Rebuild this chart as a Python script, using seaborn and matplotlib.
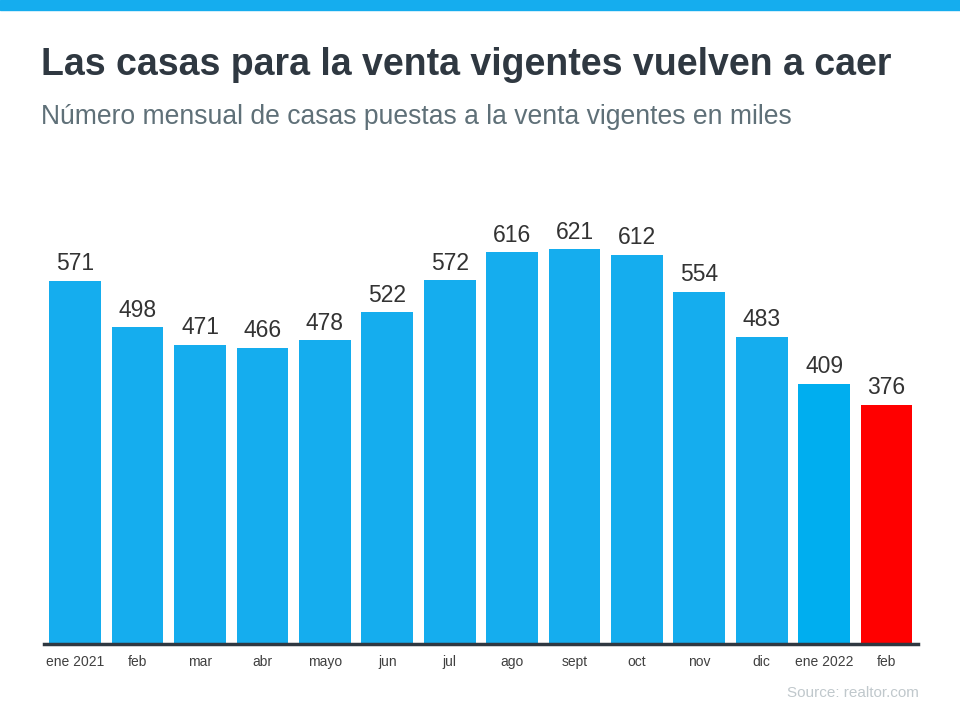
import pandas as pd
import matplotlib
matplotlib.use('Agg')
import matplotlib.pyplot as plt
import seaborn as sns

# datos
meses = ['ene 2021', 'feb', 'mar', 'abr', 'mayo', 'jun', 'jul', 'ago',
         'sept', 'oct', 'nov', 'dic', 'ene 2022', 'feb ']
valores = [571, 498, 471, 466, 478, 522, 572, 616, 621, 612, 554, 483, 409, 376]
colores = ['#15ADEE'] * 12 + ['#00AEEF', '#FF0000']

df = pd.DataFrame({'mes': meses, 'valor': valores})

sns.set_theme(style='white')
plt.rcParams['font.family'] = ['Liberation Sans', 'DejaVu Sans']

fig = plt.figure(figsize=(9.6, 7.2), dpi=100)
ax = fig.add_axes([0.0458, 0.1056, 0.9102, 0.618])

sns.barplot(data=df, x='mes', y='valor', hue='mes', palette=colores,
            legend=False, width=0.83, saturation=1, linewidth=0, ax=ax)

# etiquetas de valor encima de cada barra
for c in ax.containers:
    ax.bar_label(c, padding=4, fontsize=16.5, color='#333333')

ax.set_xlim(-0.5, len(meses) - 0.5)
ax.set_ylim(0, 700)
ax.set_xlabel('')
ax.set_ylabel('')
ax.set_yticks([])
ax.set_xticks(range(len(meses)))
ax.set_xticklabels([m.strip() for m in meses], fontsize=10, color='#404040')
ax.tick_params(axis='x', length=0, pad=8)
for s in ['top', 'left', 'right']:
    ax.spines[s].set_visible(False)
ax.spines['bottom'].set_color('#2F3841')
ax.spines['bottom'].set_linewidth(2.5)

# franja superior
fig.patches.append(plt.Rectangle((0, 1 - 10 / 720), 1, 10 / 720,
                                 transform=fig.transFigure, color='#15ADEE'))

fig.text(41 / 960, 1 - 65 / 720, 'Las casas para la venta vigentes vuelven a caer',
         fontsize=27, fontweight='bold', color='#2F3841', va='center')
fig.text(41 / 960, 1 - 117 / 720, 'Número mensual de casas puestas a la venta vigentes en miles',
         fontsize=19.1, color='#5F7078', va='center')
fig.text(919 / 960, 1 - 693 / 720, 'Source: realtor.com',
         fontsize=11, color='#C0C8CC', ha='right', va='center')

fig.savefig('out.png', dpi=100)
